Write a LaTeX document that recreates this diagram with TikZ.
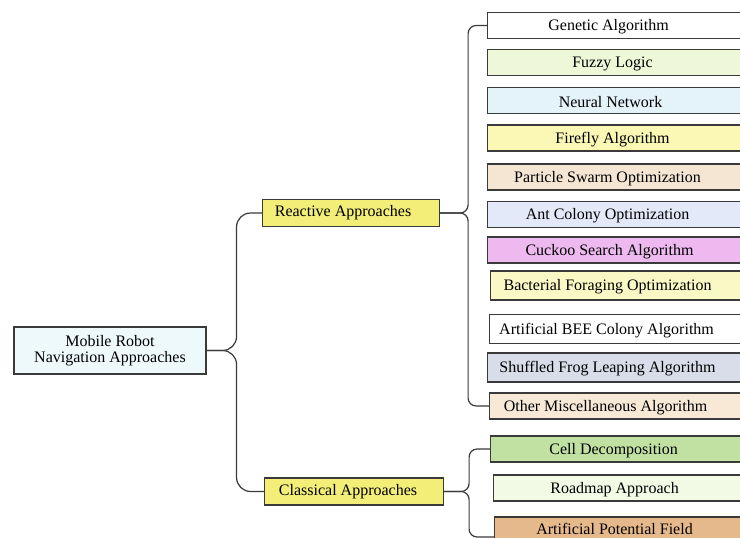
\documentclass[tikz,border=0pt]{standalone}
\usepackage{fontspec}
\setmainfont{Liberation Serif}
\definecolor{rootfill}{HTML}{EEF9FC}
\definecolor{midfill}{HTML}{F2EE78}
\definecolor{edge}{HTML}{3A3A3A}
\definecolor{cGA}{HTML}{FFFFFF}
\definecolor{cFL}{HTML}{EEF8D8}
\definecolor{cNN}{HTML}{E4F2FA}
\definecolor{cFA}{HTML}{FBF7B4}
\definecolor{cPSO}{HTML}{F5E6D3}
\definecolor{cACO}{HTML}{E3E9F8}
\definecolor{cCS}{HTML}{EDB9EF}
\definecolor{cBFO}{HTML}{FAF8C4}
\definecolor{cABC}{HTML}{FFFFFF}
\definecolor{cSFL}{HTML}{D9DDEA}
\definecolor{cOMA}{HTML}{F7E9D6}
\definecolor{cCD}{HTML}{C0E1A2}
\definecolor{cRM}{HTML}{F2FAE6}
\definecolor{cAPF}{HTML}{E6B98C}
\tikzset{
  x=1pt, y=-1pt,
  every node/.style={font=\fontsize{16}{13}\selectfont},
  boxnode/.style={draw=edge, line width=1.1pt, inner sep=0pt},
  leaf/.style={boxnode, anchor=west, minimum width=270pt, minimum height=26pt},
  branch/.style={boxnode, fill=midfill, anchor=west, minimum height=27pt},
  link/.style={draw=edge, line width=1.2pt, rounded corners=#1},
  link/.default=10pt,
}
\newcommand\leafbox[6]{%
  % #1 name, #2 fill, #3 left x, #4 centre y, #5 text shift, #6 text
  \node[leaf, fill=#2, label={[xshift=#5, yshift=-1.5pt]center:#6}] (#1) at (#3,#4) {};}
\begin{document}
\begin{tikzpicture}
\useasboundingbox (0,0) rectangle (740,538);
\clip (0,0) rectangle (740,538);
\fill[white] (0,0) rectangle (740,538);

% root and the two families of approaches
\node[boxnode, fill=rootfill, minimum width=192pt, minimum height=47pt, align=center,
  font=\fontsize{16}{16}\selectfont]
  (root) at (110,350.5) {Mobile Robot\\Navigation Approaches};
\node[branch, minimum width=177pt] (react) at (262,213)
  {\hspace*{-16pt}Reactive Approaches};
\node[branch, minimum width=179pt] (class) at (264,491.5)
  {\hspace*{-12pt}Classical Approaches};

% reactive approaches
\leafbox{ga}{cGA}{487}{25.5}{-14pt}{Genetic Algorithm}
\leafbox{fl}{cFL}{487}{62.5}{-10pt}{Fuzzy Logic}
\leafbox{nn}{cNN}{487}{100.5}{-12pt}{Neural Network}
\leafbox{fa}{cFA}{487}{138}{-10pt}{Firefly Algorithm}
\leafbox{pso}{cPSO}{487}{177}{-15pt}{Particle Swarm Optimization}
\leafbox{aco}{cACO}{487}{214.5}{-15pt}{Ant Colony Optimization}
\leafbox{cs}{cCS}{487}{250}{-13pt}{Cuckoo Search Algorithm}
\begin{scope}[leaf/.append style={minimum height=29pt}]
\leafbox{bfo}{cBFO}{490}{285.5}{-18pt}{Bacterial Foraging Optimization}
\leafbox{abc}{cABC}{489}{329}{-18pt}{Artificial BEE Colony Algorithm}
\leafbox{sfl}{cSFL}{487}{367.5}{-15pt}{Shuffled Frog Leaping Algorithm}
\end{scope}
\leafbox{oma}{cOMA}{489}{406}{-19pt}{Other Miscellaneous Algorithm}

% classical approaches
\leafbox{cd}{cCD}{490}{449}{-12pt}{Cell Decomposition}
\leafbox{rm}{cRM}{493}{488}{-14pt}{Roadmap Approach}
\node[leaf, fill=cAPF, minimum height=32pt,
  label={[xshift=-15pt, yshift=4pt]center:Artificial Potential Field}] (apf) at (494,533) {};

% brace-like connectors
\coordinate (rootj) at ([xshift=30pt]root.east);
\coordinate (reactj) at ([xshift=28pt]react.east);
\coordinate (classj) at ([xshift=25pt]class.east);
\coordinate (apfend) at ([yshift=-4pt]apf.west);

\draw[link=14pt] (root.east) -- (rootj) |- (react.west);
\draw[link=14pt] (root.east) -- (rootj) |- (class.west);
\draw[link=8pt] (react.east) -- (reactj) |- (ga.west);
\draw[link=8pt] (react.east) -- (reactj) |- (oma.west);
\draw[link=8pt] (class.east) -- (classj) |- (cd.west);
\draw[link=8pt] (class.east) -- (classj) |- (apfend);
\end{tikzpicture}
\end{document}
